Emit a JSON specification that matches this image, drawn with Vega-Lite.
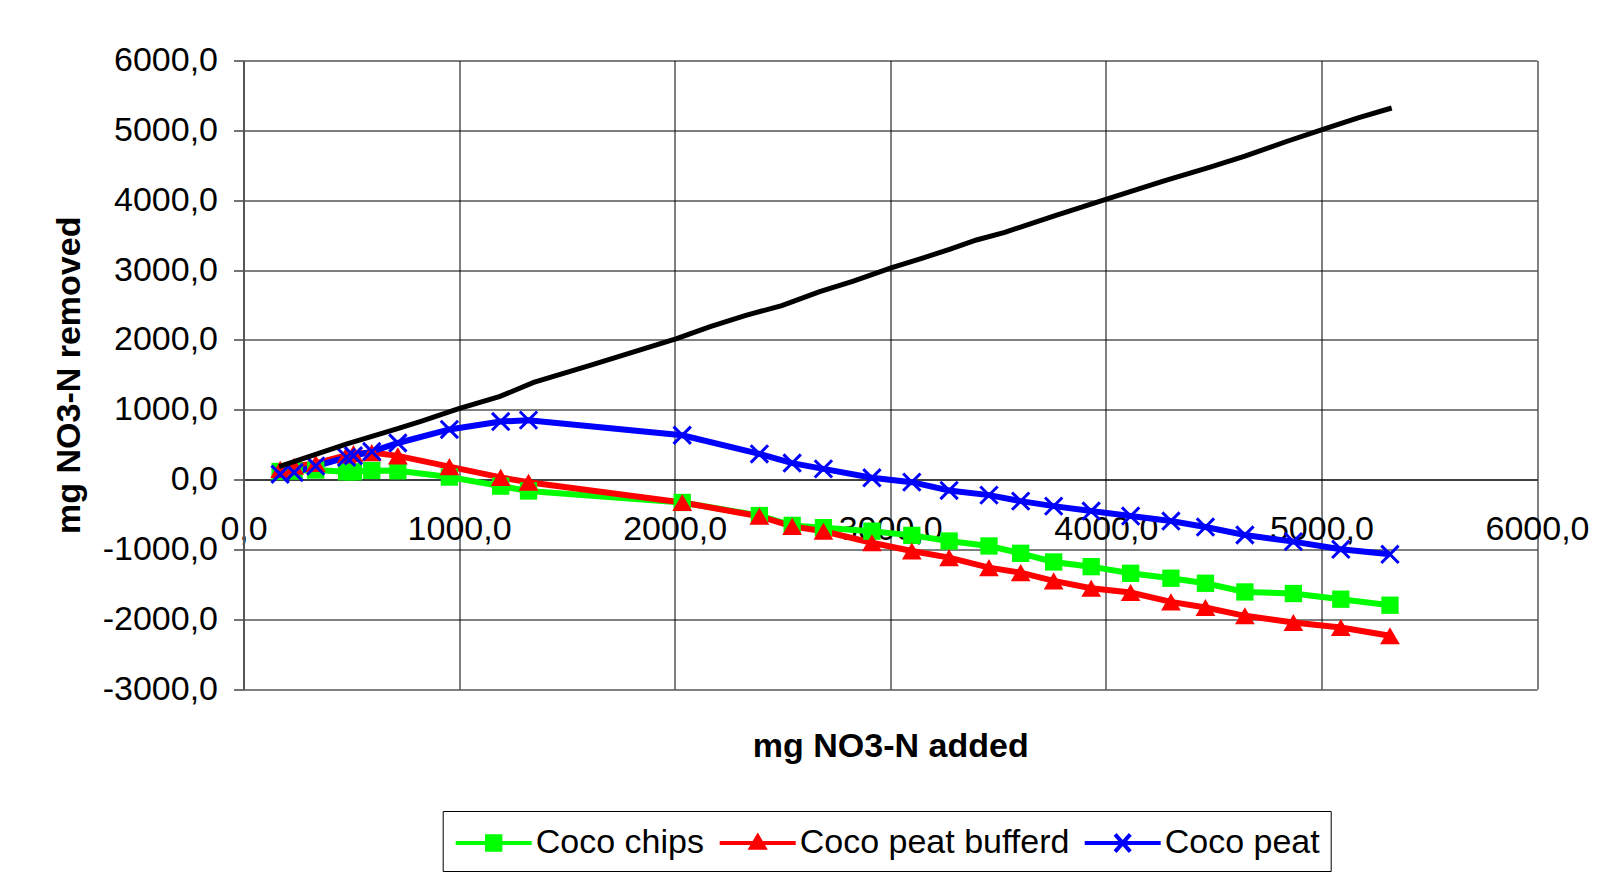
{
  "$schema": "https://vega.github.io/schema/vega-lite/v6.json",
  "width": 1293.5,
  "height": 628.5,
  "autosize": {"type": "none"},
  "padding": {"left": 243.5, "top": 60.5, "right": 71, "bottom": 188},
  "background": "white",
  "config": {
    "font": "Liberation Sans",
    "view": {"stroke": null}
  },
  "datasets": {
    "s": [
      {"series": "Coco chips", "x": 170, "y": 115},
      {"series": "Coco chips", "x": 235, "y": 120},
      {"series": "Coco chips", "x": 335, "y": 135},
      {"series": "Coco chips", "x": 478, "y": 110},
      {"series": "Coco chips", "x": 510, "y": 110},
      {"series": "Coco chips", "x": 595, "y": 130},
      {"series": "Coco chips", "x": 716, "y": 125},
      {"series": "Coco chips", "x": 955, "y": 35},
      {"series": "Coco chips", "x": 1193, "y": -95},
      {"series": "Coco chips", "x": 1322, "y": -164},
      {"series": "Coco chips", "x": 2035, "y": -329},
      {"series": "Coco chips", "x": 2393, "y": -516},
      {"series": "Coco chips", "x": 2545, "y": -657},
      {"series": "Coco chips", "x": 2690, "y": -690},
      {"series": "Coco chips", "x": 2915, "y": -740},
      {"series": "Coco chips", "x": 3100, "y": -800},
      {"series": "Coco chips", "x": 3273, "y": -881},
      {"series": "Coco chips", "x": 3458, "y": -952},
      {"series": "Coco chips", "x": 3605, "y": -1057},
      {"series": "Coco chips", "x": 3758, "y": -1181},
      {"series": "Coco chips", "x": 3932, "y": -1248},
      {"series": "Coco chips", "x": 4115, "y": -1343},
      {"series": "Coco chips", "x": 4302, "y": -1414},
      {"series": "Coco chips", "x": 4462, "y": -1486},
      {"series": "Coco chips", "x": 4645, "y": -1610},
      {"series": "Coco chips", "x": 4870, "y": -1633},
      {"series": "Coco chips", "x": 5090, "y": -1714},
      {"series": "Coco chips", "x": 5318, "y": -1800},
      {"series": "Coco peat bufferd", "x": 170, "y": 145},
      {"series": "Coco peat bufferd", "x": 235, "y": 190},
      {"series": "Coco peat bufferd", "x": 335, "y": 230},
      {"series": "Coco peat bufferd", "x": 478, "y": 350},
      {"series": "Coco peat bufferd", "x": 510, "y": 370},
      {"series": "Coco peat bufferd", "x": 595, "y": 385},
      {"series": "Coco peat bufferd", "x": 716, "y": 338},
      {"series": "Coco peat bufferd", "x": 955, "y": 185},
      {"series": "Coco peat bufferd", "x": 1193, "y": 30},
      {"series": "Coco peat bufferd", "x": 1322, "y": -40},
      {"series": "Coco peat bufferd", "x": 2035, "y": -329},
      {"series": "Coco peat bufferd", "x": 2393, "y": -526},
      {"series": "Coco peat bufferd", "x": 2545, "y": -671},
      {"series": "Coco peat bufferd", "x": 2690, "y": -742},
      {"series": "Coco peat bufferd", "x": 2915, "y": -905},
      {"series": "Coco peat bufferd", "x": 3100, "y": -1024},
      {"series": "Coco peat bufferd", "x": 3273, "y": -1119},
      {"series": "Coco peat bufferd", "x": 3458, "y": -1262},
      {"series": "Coco peat bufferd", "x": 3605, "y": -1333},
      {"series": "Coco peat bufferd", "x": 3758, "y": -1452},
      {"series": "Coco peat bufferd", "x": 3932, "y": -1557},
      {"series": "Coco peat bufferd", "x": 4115, "y": -1619},
      {"series": "Coco peat bufferd", "x": 4302, "y": -1752},
      {"series": "Coco peat bufferd", "x": 4462, "y": -1833},
      {"series": "Coco peat bufferd", "x": 4645, "y": -1952},
      {"series": "Coco peat bufferd", "x": 4870, "y": -2048},
      {"series": "Coco peat bufferd", "x": 5090, "y": -2119},
      {"series": "Coco peat bufferd", "x": 5318, "y": -2238},
      {"series": "Coco peat", "x": 170, "y": 75},
      {"series": "Coco peat", "x": 235, "y": 100},
      {"series": "Coco peat", "x": 335, "y": 192},
      {"series": "Coco peat", "x": 478, "y": 317},
      {"series": "Coco peat", "x": 510, "y": 340},
      {"series": "Coco peat", "x": 595, "y": 400},
      {"series": "Coco peat", "x": 716, "y": 523},
      {"series": "Coco peat", "x": 955, "y": 717},
      {"series": "Coco peat", "x": 1193, "y": 830},
      {"series": "Coco peat", "x": 1322, "y": 850},
      {"series": "Coco peat", "x": 2035, "y": 634},
      {"series": "Coco peat", "x": 2393, "y": 366},
      {"series": "Coco peat", "x": 2545, "y": 235},
      {"series": "Coco peat", "x": 2690, "y": 152},
      {"series": "Coco peat", "x": 2915, "y": 24},
      {"series": "Coco peat", "x": 3100, "y": -38},
      {"series": "Coco peat", "x": 3273, "y": -157},
      {"series": "Coco peat", "x": 3458, "y": -224},
      {"series": "Coco peat", "x": 3605, "y": -310},
      {"series": "Coco peat", "x": 3758, "y": -381},
      {"series": "Coco peat", "x": 3932, "y": -452},
      {"series": "Coco peat", "x": 4115, "y": -524},
      {"series": "Coco peat", "x": 4302, "y": -595},
      {"series": "Coco peat", "x": 4462, "y": -681},
      {"series": "Coco peat", "x": 4645, "y": -795},
      {"series": "Coco peat", "x": 4870, "y": -890},
      {"series": "Coco peat", "x": 5090, "y": -1000},
      {"series": "Coco peat", "x": 5318, "y": -1071}
    ],
    "ref": [
      {"x": 165, "y": 185},
      {"x": 480, "y": 510},
      {"x": 715, "y": 730},
      {"x": 830, "y": 840},
      {"x": 995, "y": 1010},
      {"x": 1190, "y": 1190},
      {"x": 1346, "y": 1390},
      {"x": 1619, "y": 1645},
      {"x": 2009, "y": 2018},
      {"x": 2165, "y": 2190},
      {"x": 2330, "y": 2350},
      {"x": 2497, "y": 2490},
      {"x": 2673, "y": 2690},
      {"x": 2829, "y": 2840},
      {"x": 3004, "y": 3030},
      {"x": 3150, "y": 3170},
      {"x": 3278, "y": 3300},
      {"x": 3400, "y": 3430},
      {"x": 3531, "y": 3540},
      {"x": 3765, "y": 3780},
      {"x": 4000, "y": 4010},
      {"x": 4274, "y": 4280},
      {"x": 4480, "y": 4470},
      {"x": 4645, "y": 4630},
      {"x": 4838, "y": 4840},
      {"x": 5014, "y": 5020},
      {"x": 5170, "y": 5180},
      {"x": 5326, "y": 5320}
    ]
  },
  "layer": [
    {
      "data": {"name": "s"},
      "mark": {"type": "line", "strokeWidth": 6},
      "encoding": {
        "x": {
          "field": "x", "type": "quantitative",
          "scale": {"domain": [0, 6000], "nice": false, "zero": false},
          "axis": {
            "orient": "bottom",
            "offset": -209.5,
            "values": [0, 1000, 2000, 3000, 4000, 5000, 6000],
            "labelExpr": "(datum.value < 0 ? '-' : '') + abs(datum.value) + ',0'",
            "grid": true, "gridColor": "black", "gridWidth": 1, "gridOpacity": 1,
            "ticks": false,
            "domain": true, "domainColor": "black", "domainWidth": 1,
            "labelFontSize": 34, "labelColor": "black", "labelPadding": 33,
            "labelFlush": false, "labelOverlap": false,
            "title": "mg NO3-N added",
            "titleFontSize": 34, "titleFontWeight": "bold", "titleColor": "black",
            "titleX": 646.75, "titleY": 277, "titleAlign": "center", "titleBaseline": "alphabetic"
          }
        },
        "y": {
          "field": "y", "type": "quantitative",
          "scale": {"domain": [-3000, 6000], "nice": false, "zero": false},
          "axis": {
            "values": [-3000, -2000, -1000, 0, 1000, 2000, 3000, 4000, 5000, 6000],
            "labelExpr": "(datum.value < 0 ? '-' : '') + abs(datum.value) + ',0'",
            "grid": true, "gridColor": "black", "gridWidth": 1, "gridOpacity": 1,
            "ticks": true, "tickSize": 10, "tickColor": "#444444", "tickWidth": 1.5,
            "domain": true, "domainColor": "#555555", "domainWidth": 2,
            "labelFontSize": 34, "labelColor": "black", "labelPadding": 16,
            "labelFlush": false, "labelOverlap": false,
            "title": "mg NO3-N removed",
            "titleFontSize": 34, "titleFontWeight": "bold", "titleColor": "black",
            "titleAngle": 270, "titleX": -164, "titleY": 314.25,
            "titleAlign": "center", "titleBaseline": "alphabetic"
          }
        },
        "color": {
          "field": "series", "type": "nominal",
          "scale": {"domain": ["Coco chips", "Coco peat bufferd", "Coco peat"], "range": ["#00FF00", "#FF0000", "#0000FF"]},
          "legend": {
            "orient": "none", "legendX": 199.2, "legendY": 750.5,
            "direction": "horizontal", "title": null,
            "strokeColor": "black", "padding": 11, "fillColor": "white",
            "labelFontSize": 34, "labelColor": "black", "labelFont": "Liberation Sans",
            "labelLimit": 500,
            "labelOffset": 40, "columnPadding": 7,
            "symbolSize": 1444,
            "encode": {
              "symbols": {
                "update": {
                  "shape": {"signal": "datum.value === 'Coco chips' ? 'M-1,0H3M0.65,-0.35H1.35V0.35H0.65Z' : datum.value === 'Coco peat bufferd' ? 'M-1,0H3M1,-0.35L1.35,0.25L0.65,0.25Z' : 'M-1,0H3M0.6,-0.45L1.4,0.45M0.6,0.45L1.4,-0.45'"},
                  "fill": {"scale": "color", "field": "value"},
                  "stroke": {"scale": "color", "field": "value"},
                  "strokeWidth": {"value": 4},
                  "size": {"value": 1444},
                  "opacity": {"value": 1}
                }
              }
            }
          }
        }
      }
    },
    {
      "data": {"name": "s"},
      "transform": [{"filter": "datum.series === 'Coco chips'"}],
      "mark": {"type": "point", "filled": true, "shape": "square", "color": "#00FF00", "size": 300, "opacity": 1},
      "encoding": {
        "x": {"field": "x", "type": "quantitative"},
        "y": {"field": "y", "type": "quantitative"}
      }
    },
    {
      "data": {"name": "s"},
      "transform": [{"filter": "datum.series === 'Coco peat bufferd'"}],
      "mark": {"type": "point", "filled": true, "shape": "triangle-up", "color": "#FF0000", "size": 390, "opacity": 1},
      "encoding": {
        "x": {"field": "x", "type": "quantitative"},
        "y": {"field": "y", "type": "quantitative"}
      }
    },
    {
      "data": {"name": "s"},
      "transform": [{"filter": "datum.series === 'Coco peat'"}],
      "mark": {"type": "point", "filled": false, "shape": "M-1,-1L1,1M-1,1L1,-1", "color": "#0000FF", "strokeWidth": 3, "size": 300, "opacity": 1},
      "encoding": {
        "x": {"field": "x", "type": "quantitative"},
        "y": {"field": "y", "type": "quantitative"}
      }
    },
    {
      "data": {"name": "ref"},
      "mark": {"type": "line", "color": "black", "strokeWidth": 5},
      "encoding": {
        "x": {"field": "x", "type": "quantitative"},
        "y": {"field": "y", "type": "quantitative"}
      }
    }
  ]
}
